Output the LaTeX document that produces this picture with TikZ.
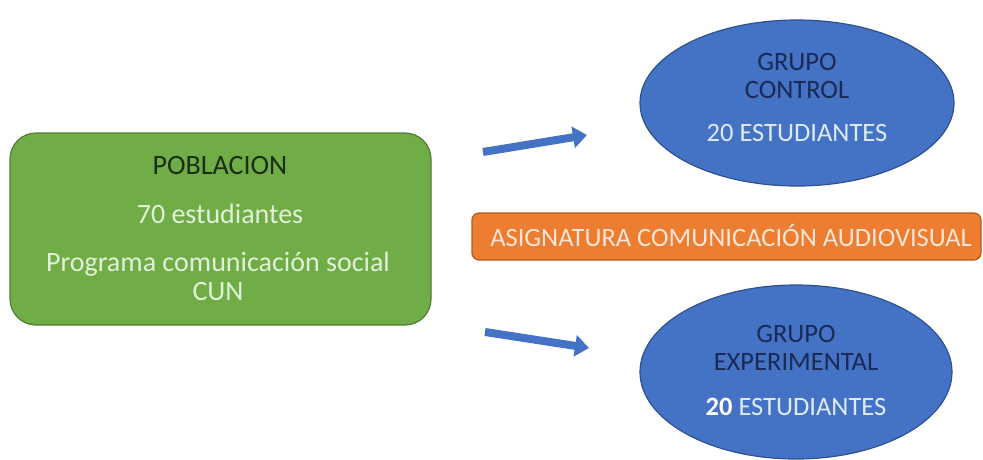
\documentclass[tikz,border=0pt]{standalone}
\usepackage{fontspec}
\setmainfont{Carlito}
\usetikzlibrary{arrows.meta,shapes.geometric}
\definecolor{gfill}{HTML}{70AD47}
\definecolor{gline}{HTML}{507E32}
\definecolor{bfill}{HTML}{4472C4}
\definecolor{bline}{HTML}{2F528F}
\definecolor{ofill}{HTML}{ED7D31}
\definecolor{oline}{HTML}{AE5A21}
\definecolor{gtext}{HTML}{E2F0D9}
\definecolor{gdark}{HTML}{1C2E12}
\definecolor{btext}{HTML}{DEEBF7}
\definecolor{bdark}{HTML}{1B2A55}
\definecolor{otext}{HTML}{FBE5D6}
\tikzset{
  greenbox/.style={draw=gline,fill=gfill,line width=1.2pt,rounded corners=26pt},
  orangebox/.style={draw=oline,fill=ofill,line width=1.2pt,rounded corners=7pt},
  group/.style={ellipse,draw=bline,fill=bfill,line width=1.2pt,inner sep=0pt},
  txt/.style={font=\fontsize{26.5}{32}\selectfont,inner sep=0pt,anchor=center},
  bigtxt/.style={font=\fontsize{28}{33}\selectfont,inner sep=0pt,anchor=center},
  blockarrow/.style={draw=bfill,line width=8pt,-{Triangle[length=14pt,width=21pt]}}
}
\begin{document}
\begin{tikzpicture}[x=1pt,y=-1pt]
\useasboundingbox (0,0) rectangle (983,459);
% green population box
\draw[greenbox] (10,133) rectangle (431,325);
\node[bigtxt,text=gdark] (t1) at (220,166) {POBLACION};
\node[bigtxt,text=gtext] (t2) at (220,214) {70 estudiantes};
\node[bigtxt,text=gtext,align=center,font=\fontsize{28}{29}\selectfont] (t3) at (218,276) {Programa comunicación social\\CUN};
% ellipses
\node[group,minimum width=314pt,minimum height=166pt] (ctrl) at (797,103) {};
\node[txt,text=bdark,align=center,font=\fontsize{26.5}{27.5}\selectfont] (c1) at (797,76) {GRUPO\\CONTROL};
\node[txt,text=btext] (c3) at (797,133) {20 ESTUDIANTES};
\node[group,minimum width=312pt,minimum height=174pt] (exp) at (796,372) {};
\node[txt,text=bdark,align=center,font=\fontsize{26.5}{28}\selectfont] (e1) at (796,348) {GRUPO\\EXPERIMENTAL};
\node[txt,text=btext] (e3) at (796,407) {\textcolor{white}{\textbf{20}} ESTUDIANTES};
% orange subject box
\draw[orangebox] (472,213) rectangle (981,260);
\node[txt,text=otext] (asig) at (731,236) {ASIGNATURA COMUNICACIÓN AUDIOVISUAL};
% arrows
\coordinate (a1s) at (483,152);
\coordinate (a1e) at (587,135);
\coordinate (a2s) at (485,332);
\coordinate (a2e) at (589,348);
\draw[blockarrow] (a1s) -- (a1e);
\draw[blockarrow] (a2s) -- (a2e);
\end{tikzpicture}
\end{document}
